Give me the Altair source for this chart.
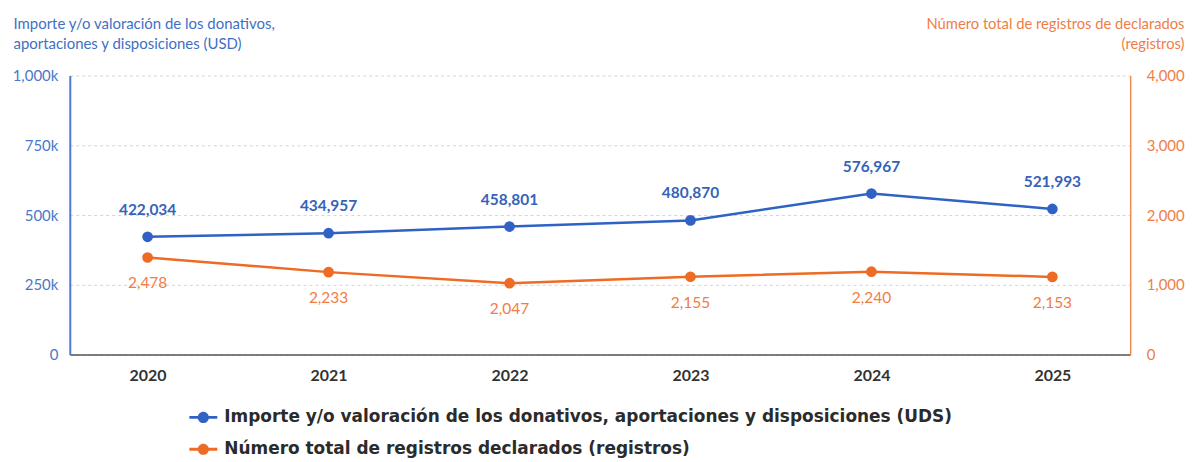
import altair as alt
import pandas as pd

years = ["2020", "2021", "2022", "2023", "2024", "2025"]
importe = [422034, 434957, 458801, 480870, 576967, 521993]
registros = [2478, 2233, 2047, 2155, 2240, 2153]
series = [
    "Importe y/o valoración de los donativos, aportaciones y disposiciones (UDS)",
    "Número total de registros declarados (registros)",
]
colors = ["#2f62c4", "#ef6a22"]
left_ticks = [0, 250000, 500000, 750000, 1000000]
right_ticks = [0, 1000, 2000, 3000, 4000]
left_title = ["Importe y/o valoración de los donativos,", "aportaciones y disposiciones (USD)"]
right_title = ["Número total de registros de declarados", "(registros)"]

df_imp = pd.DataFrame({"year": years, "value": importe, "serie": series[0]})
df_reg = pd.DataFrame({"year": years, "value": registros, "serie": series[1]})

x_enc = alt.X(
    "year:N", sort=years,
    scale=alt.Scale(type="point", padding=0.43),
    axis=alt.Axis(title=None, labelAngle=0, labelFont="Lato", labelFontSize=16,
                  labelFontWeight="bold", labelColor="#333333", labelPadding=13,
                  ticks=False, domainColor="#555555", domainWidth=1.5, grid=False),
)

symbol_path = ("M-1,-0.1L1,-0.1L1,0.1L-1,0.1Z "
               "M-0.4,0A0.4,0.4,0,1,1,0.4,0A0.4,0.4,0,1,1,-0.4,0Z")

color_enc = alt.Color(
    "serie:N",
    scale=alt.Scale(domain=series, range=colors),
    legend=alt.Legend(
        title=None, orient="none", legendX=120, legendY=329, direction="vertical",
        symbolType=symbol_path, symbolSize=784, symbolStrokeWidth=0,
        labelFont="DejaVu Sans", labelFontSize=17, labelFontWeight="bold",
        labelColor="#2b2b2b", labelOffset=7, labelLimit=0, rowPadding=10,
    ),
)

left_axis = alt.Axis(
    orient="left", values=left_ticks,
    labelExpr="datum.value == 0 ? '0' : format(datum.value / 1000, ',') + 'k'",
    labelFont="Lato", labelFontSize=15, labelColor="#4a78c8", labelPadding=12,
    ticks=False, grid=True, gridDash=[3, 3], gridColor="#d3d3d3",
    domainColor="#4a7bd0", domainWidth=2,
    title=left_title, titleAngle=0, titleAlign="left", titleBaseline="top",
    titleX=-57, titleY=-59, titleFont="Lato", titleFontSize=15,
    titleFontWeight="normal", titleColor="#3f6fc4", titleLineHeight=20,
)

right_axis = alt.Axis(
    orient="right", values=right_ticks,
    labelExpr="format(datum.value, ',')",
    labelFont="Lato", labelFontSize=15, labelColor="#f07d45", labelPadding=16,
    ticks=False, grid=False, domainColor="#f08a50", domainWidth=1.5,
    title=right_title, titleAngle=0, titleAlign="right", titleBaseline="top",
    titleX=54, titleY=-59, titleFont="Lato", titleFontSize=14.8,
    titleFontWeight="normal", titleColor="#f07d45", titleLineHeight=20,
)

# Blue series (left axis)
base_b = alt.Chart(df_imp).encode(
    x=x_enc,
    y=alt.Y("value:Q", scale=alt.Scale(domain=[0, 1000000]), axis=left_axis),
)
line_b = base_b.mark_line(color=colors[0], strokeWidth=2.5)
pt_b = base_b.mark_point(filled=True, size=115, opacity=1).encode(color=color_enc)
txt_b = base_b.mark_text(dy=-27, font="Lato", fontSize=15.5, fontWeight="bold",
                         color="#3563b8").encode(text=alt.Text("value:Q", format=","))
blue = alt.layer(line_b, pt_b, txt_b)

# Orange series (positioned as in the reference, hidden scale)
base_o = alt.Chart(df_reg).encode(
    x=x_enc,
    y=alt.Y("value:Q", scale=alt.Scale(domain=[850, 5530]), axis=None),
)
line_o = base_o.mark_line(color=colors[1], strokeWidth=2.5)
pt_o = base_o.mark_point(filled=True, size=115, opacity=1).encode(color=color_enc)
txt_o = base_o.mark_text(dy=26, font="Lato", fontSize=15.5, fontWeight="normal",
                         color="#f07d45").encode(text=alt.Text("value:Q", format=","))
orange = alt.layer(line_o, pt_o, txt_o)

# Right axis (registros)
axis_r = alt.Chart(df_reg).mark_point(opacity=0).encode(
    x=x_enc,
    y=alt.Y("value:Q", scale=alt.Scale(domain=[0, 4000]), axis=right_axis),
)

chart = alt.layer(blue, orange, axis_r).resolve_scale(y="independent").properties(
    width=1064, height=280,
    autosize=alt.AutoSizeParams(type="none"),
    padding={"left": 62, "top": 67, "right": 56, "bottom": 104},
    background="white",
).configure_view(stroke=None)

chart.save("out.html", embed_options={"renderer": "svg", "actions": False})
